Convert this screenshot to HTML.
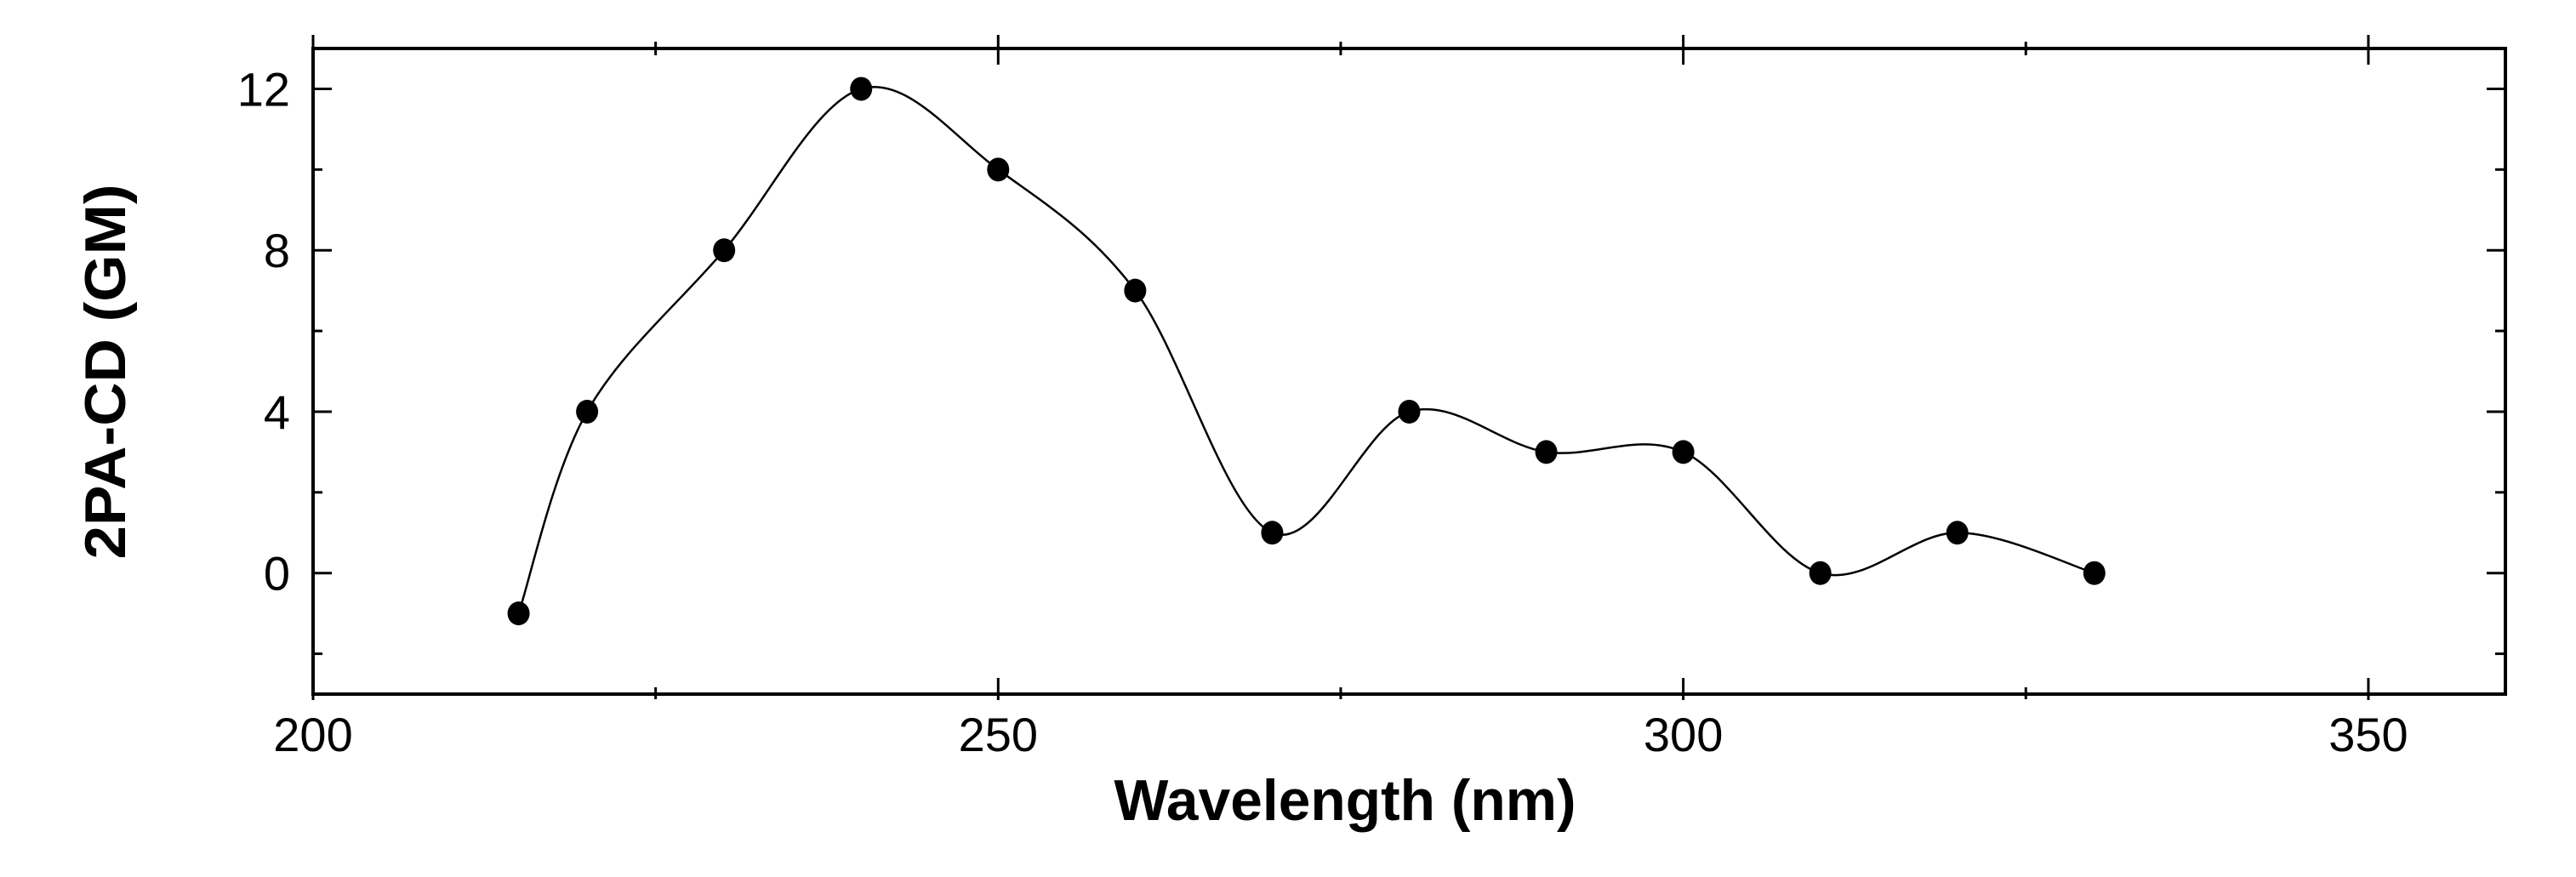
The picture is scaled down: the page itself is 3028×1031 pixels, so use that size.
<!DOCTYPE html>
<html><head><meta charset="utf-8"><style>
html,body{margin:0;padding:0;background:#fff;}
svg{display:block;}
text{font-family:"Liberation Sans",sans-serif;fill:#000;}
</style></head><body>
<svg id="chart" width="3028" height="1031" viewBox="0 0 3028 1031" xmlns="http://www.w3.org/2000/svg">
<g id="axes"></g>
<g id="series"></g>
<text x="1581" y="964" text-anchor="middle" font-weight="bold" font-size="68" textLength="543" lengthAdjust="spacingAndGlyphs">Wavelength (nm)</text>
<text transform="translate(147,437) rotate(-90)" text-anchor="middle" font-weight="bold" font-size="68" textLength="441" lengthAdjust="spacingAndGlyphs">2PA-CD (GM)</text>
</svg>
<script>
const wavelengths = [215, 220, 230, 240, 250, 260, 270, 280, 290, 300, 310, 320, 330];
const cdValues = [-1, 4, 8, 12, 10, 7, 1, 4, 3, 3, 0, 1, 0];
const xMajorTicks = [200, 250, 300, 350];
const xMinorTicks = [225, 275, 325];
const yMajorTicks = [0, 4, 8, 12];
const yMinorTicks = [-2, 2, 6, 10];

const L = 368, R = 2945, T = 57, B = 816;
const xMin = 200, xMax = 360, yMin = -3, yMax = 13;
const NS = 'http://www.w3.org/2000/svg';
function sx(v){ return L + (v - xMin) / (xMax - xMin) * (R - L); }
function sy(v){ return B - (v - yMin) / (yMax - yMin) * (B - T); }
function mk(tag, attrs){ const e = document.createElementNS(NS, tag); for (const k in attrs) e.setAttribute(k, attrs[k]); return e; }

const axes = document.getElementById('axes');
const frame = mk('rect', {x:L, y:T, width:R-L, height:B-T, fill:'none', stroke:'#000', 'stroke-width':4});


axes.appendChild(frame);

function line(x1,y1,x2,y2,name){
  const l = mk('line', {x1:x1, y1:y1, x2:x2, y2:y2, stroke:'#000', 'stroke-width':3});
  
  
  axes.appendChild(l);
}
xMajorTicks.forEach(v => {
  const x = sx(v);
  line(x, B-19, x, B+7, 'x-major-tick');
  line(x, T-16, x, T+19, 'x-major-tick-top');
  const t = mk('text', {x:x, y:883, 'text-anchor':'middle', 'font-size':56});
  
  
  t.textContent = v;
  axes.appendChild(t);
});
xMinorTicks.forEach(v => {
  const x = sx(v);
  line(x, B-8, x, B+6, 'x-minor-tick');
  line(x, T-8, x, T+8, 'x-minor-tick-top');
});
yMajorTicks.forEach(v => {
  const y = sy(v);
  line(L, y, L+22, y, 'y-major-tick');
  line(R-22, y, R, y, 'y-major-tick-right');
  const t = mk('text', {x:341, y:y+20, 'text-anchor':'end', 'font-size':56});
  
  
  t.textContent = v;
  axes.appendChild(t);
});
yMinorTicks.forEach(v => {
  const y = sy(v);
  line(L, y, L+11, y, 'y-minor-tick');
  line(R-12, y, R, y, 'y-minor-tick-right');
});

const series = document.getElementById('series');
const pts = wavelengths.map((w,i) => [sx(w), sy(cdValues[i])]);
let d = 'M' + pts[0][0] + ',' + pts[0][1];
for (let i = 0; i < pts.length - 1; i++) {
  const p0 = pts[Math.max(0,i-1)], p1 = pts[i], p2 = pts[i+1], p3 = pts[Math.min(pts.length-1,i+2)];
  const c1x = p1[0] + (p2[0]-p0[0])/6, c1y = p1[1] + (p2[1]-p0[1])/6;
  const c2x = p2[0] - (p3[0]-p1[0])/6, c2y = p2[1] - (p3[1]-p1[1])/6;
  d += ' C' + c1x + ',' + c1y + ' ' + c2x + ',' + c2y + ' ' + p2[0] + ',' + p2[1];
}
const path = mk('path', {d:d, fill:'none', stroke:'#000', 'stroke-width':2.5});


series.appendChild(path);
pts.forEach(p => {
  const c = mk('ellipse', {cx:p[0], cy:p[1], rx:13, ry:14, fill:'#000'});
  
  
  series.appendChild(c);
});
</script>
</body></html>
